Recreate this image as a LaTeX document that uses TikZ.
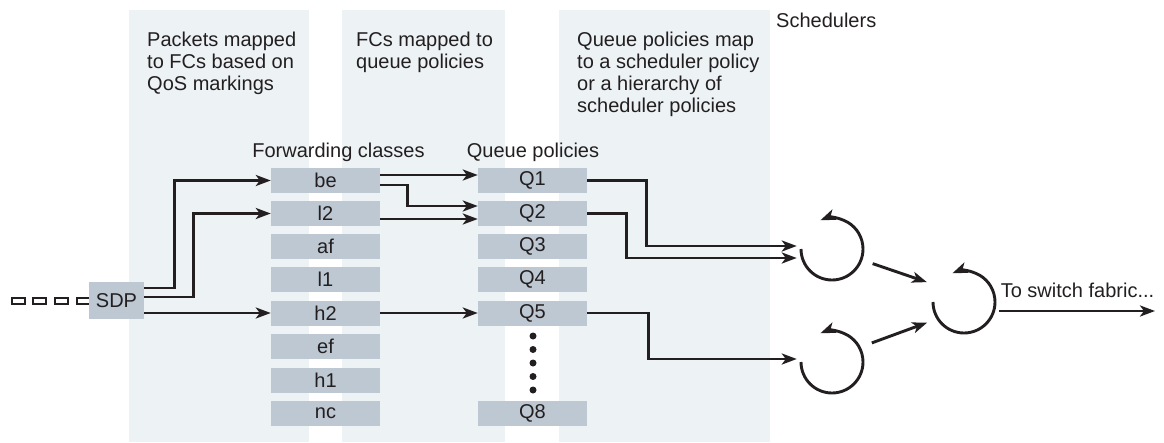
\documentclass[tikz,border=0pt]{standalone}
\usepackage{fontspec}
\setmainfont{Liberation Sans}
\usepackage{xcolor}
\usetikzlibrary{arrows.meta,positioning}

\definecolor{panelbg}{HTML}{EDF2F5}
\definecolor{boxbg}{HTML}{BDC8D3}
\definecolor{ink}{HTML}{231F20}

\tikzset{
  fcbox/.style={rectangle,fill=boxbg,minimum width=109pt,minimum height=25pt,inner sep=0pt},
  sched/.style={circle,minimum size=70pt,inner sep=0pt},
  flow/.style={-{Stealth[length=15pt,width=11pt,inset=4pt]},line width=2.9pt,draw=ink},
  note/.style={align=left,anchor=north west,inner sep=0pt},
}

\begin{document}
\begin{tikzpicture}[x=1pt,y=-1pt,every node/.style={font=\fontsize{20}{22}\selectfont,text=ink}]
\useasboundingbox (0,0) rectangle (1164,442);

% background panels
\fill[panelbg] (129,10) rectangle (309,442);
\fill[panelbg] (342,10) rectangle (505,442);
\fill[panelbg] (559,10) rectangle (770,442);

% headings
\node[note] (txtpkt) at (147,32) {Packets mapped\\to FCs based on\\QoS markings};
\node[note] (txtfc) at (356,32) {FCs mapped to\\queue policies};
\node[note] (txtq) at (577,32) {Queue policies map\\to a scheduler policy\\or a hierarchy of\\scheduler policies};
\node[note] (txtsched) at (776,13) {Schedulers};
\node[anchor=base] (fchead) at (338.5,157) {Forwarding classes};
\node[anchor=base] (qhead) at (533,157) {Queue policies};

% incoming packets
\draw[line width=1.3pt,draw=ink] (12,298) rectangle ++(13,6) (33,298) rectangle ++(13,6)
  (55,298) rectangle ++(13,6) (77,298) rectangle ++(13,6);
\node[rectangle,fill=boxbg,minimum width=55pt,minimum height=37pt,inner sep=0pt] (sdp) at (116.5,300.5) {SDP};

% forwarding classes
\node[fcbox] (be) at (325.5,180.5) {be};
\node[fcbox] (l2) at (325.5,213.5) {l2};
\node[fcbox] (af) at (325.5,246.5) {af};
\node[fcbox] (l1) at (325.5,279.5) {l1};
\node[fcbox] (h2) at (325.5,313) {h2};
\node[fcbox] (ef) at (325.5,346.5) {ef};
\node[fcbox] (h1) at (325.5,380) {h1};
\node[fcbox] (nc) at (325.5,413.5) {nc};

% queue policies
\node[fcbox] (q1) at (532.5,180.5) {Q1};
\node[fcbox] (q2) at (532.5,213.5) {Q2};
\node[fcbox] (q3) at (532.5,246.5) {Q3};
\node[fcbox] (q4) at (532.5,279.5) {Q4};
\node[fcbox] (q5) at (532.5,313) {Q5};
\node[fcbox] (q8) at (532.5,413.5) {Q8};
\fill[ink] (533,336) circle[radius=3.5pt] (533,349.5) circle[radius=3.5pt] (533,363) circle[radius=3.5pt]
  (533,376.5) circle[radius=3.5pt] (533,390) circle[radius=3.5pt];

% schedulers
\node[sched] (s1) at (832,249) {};
\node[sched] (s2) at (832,362) {};
\node[sched] (s3) at (964,302) {};
\draw[flow] (s1.center) ++(-31,0) arc[start angle=180,end angle=-112,radius=31];
\draw[flow] (s2.center) ++(-31,0) arc[start angle=180,end angle=-112,radius=31];
\draw[flow] (s3.center) ++(-31,0) arc[start angle=180,end angle=-112,radius=31];

% SDP to forwarding classes
\draw[flow] ([yshift=12.5pt]sdp.east) -- ++(30,0) |- (be.west);
\draw[flow] ([yshift=3.5pt]sdp.east) -- ++(49,0) |- (l2.west);
\draw[flow] (sdp.east |- h2.west) -- (h2.west);

% forwarding classes to queues
\draw[flow] ([yshift=5.5pt]be.east) -- ([yshift=5.5pt]q1.west);
\draw[flow] ([yshift=-4.5pt]be.east) -- ++(27,0) |- ([yshift=7.5pt]q2.west);
\draw[flow] ([yshift=-5.5pt]l2.east) -- ([yshift=-5.5pt]q2.west);
\draw[flow] (h2.east) -- (q5.west);

% queues to schedulers
\draw[flow] (q1.east) -- ++(59,0) |- ([yshift=3pt]s1.west);
\draw[flow] (q2.east) -- ++(39,0) |- ([yshift=-9pt]s1.west);
\draw[flow] (q5.east) -- ++(61,0) |- ([yshift=3pt]s2.west);
\draw[flow,shorten <=8pt,shorten >=7pt] (s1.-20) -- (s3.150);
\draw[flow,shorten <=9pt,shorten >=7pt] (s2.27) -- (s3.211);

% output
\coordinate (fabric) at (1155,311);
\draw[flow] ([yshift=-9pt]s3.east) -- (fabric);
\node[anchor=base] (fabrictxt) at (1077.5,297) {To switch fabric...};
\end{tikzpicture}
\end{document}
